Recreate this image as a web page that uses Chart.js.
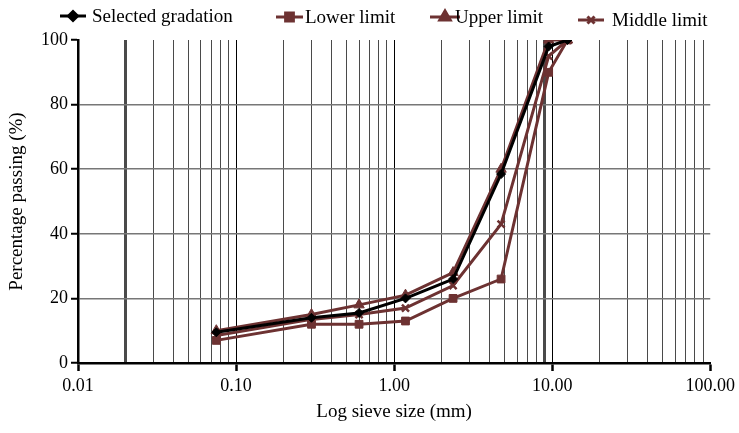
<!DOCTYPE html>
<html>
<head>
<meta charset="utf-8">
<script src="https://cdn.jsdelivr.net/npm/chart.js@4/dist/chart.umd.min.js"></script>
<style>
  body { margin: 0; background: #fff; }
  #wrap { width: 739px; height: 433px; }
</style>
</head>
<body>
<div id="wrap"><canvas id="chart"></canvas></div>
<script>
(function(){
    'use strict'

    // sieve sizes (mm) and percentage passing
    var sieveSizes = [0.075, 0.3, 0.6, 1.18, 2.36, 4.75, 9.5, 12.5];
    var selected   = [9.5, 14, 15.5, 20, 26, 58.5, 98, 100];
    var lower      = [7, 12, 12, 13, 20, 26, 90, 100];
    var upper      = [10, 15, 18, 21, 28, 60, 100, 100];
    var middle     = [8.5, 13.5, 15, 17, 24, 43, 95, 100];

    var seriesNames = ['Selected gradation', 'Lower limit', 'Upper limit', 'Middle limit'];
    var yTicks = [0, 20, 40, 60, 80, 100];
    var xDecades = [0.01, 0.1, 1, 10, 100];

    var brown = '#6d3232';
    var serif = "'Liberation Serif', 'DejaVu Serif', serif";

    function points(values){
        return values.map(function(v, i){ return {x: sieveSizes[i], y: v}; });
    }

    // every 1..9 step of each decade, for the log grid
    var xTickValues = [];
    for (var d = 0; d < xDecades.length - 1; d++) {
        for (var m = 1; m <= 9; m++) {
            xTickValues.push(+(m * xDecades[d]).toPrecision(6));
        }
    }
    xTickValues.push(xDecades[xDecades.length - 1]);

    function isDecade(v){
        var l = Math.log10(v);
        return Math.abs(l - Math.round(l)) < 1e-9;
    }

    var legendPos = [
        {x0: 60, x1: 86, tx: 92, y: 16},
        {x0: 276, x1: 303, tx: 305, y: 17},
        {x0: 430, x1: 460, tx: 455, y: 17},
        {x0: 578, x1: 604, tx: 612, y: 20}
    ];

    var legendPlugin = {
        id: 'lineLegend',
        afterDraw: function(chart){
            var ctx = chart.ctx;
            ctx.save();
            chart.data.datasets.forEach(function(ds, i){
                var p = legendPos[i];
                ctx.strokeStyle = ds.borderColor;
                ctx.lineWidth = 3;
                ctx.beginPath();
                ctx.moveTo(p.x0, p.y);
                ctx.lineTo(p.x1, p.y);
                ctx.stroke();
                ctx.fillStyle = ds.pointBackgroundColor;
                ctx.strokeStyle = ds.pointBorderColor;
                Chart.helpers.drawPoint(ctx, {
                    pointStyle: ds.pointStyle,
                    radius: ds.pointRadius,
                    rotation: 0,
                    borderWidth: ds.pointBorderWidth
                }, (p.x0 + p.x1) / 2, p.y);
                ctx.fillStyle = '#000';
                ctx.font = '19px ' + serif;
                ctx.textBaseline = 'middle';
                ctx.textAlign = 'left';
                ctx.fillText(ds.label, p.tx, p.y + 1);
            });
            ctx.restore();
        }
    };

    new Chart(document.getElementById('chart'), {
        type: 'line',
        data: {
            datasets: [{
                label: seriesNames[0],
                data: points(selected),
                borderColor: '#000',
                borderWidth: 3,
                pointStyle: 'rectRot',
                pointRadius: 4.5,
                pointBackgroundColor: '#000',
                pointBorderColor: '#000',
                pointBorderWidth: 1
            }, {
                label: seriesNames[1],
                data: points(lower),
                borderColor: brown,
                borderWidth: 3,
                pointStyle: 'rect',
                pointRadius: 5.5,
                pointBackgroundColor: brown,
                pointBorderColor: brown,
                pointBorderWidth: 1
            }, {
                label: seriesNames[2],
                data: points(upper),
                borderColor: brown,
                borderWidth: 3,
                pointStyle: 'triangle',
                pointRadius: 6,
                pointBackgroundColor: brown,
                pointBorderColor: brown,
                pointBorderWidth: 1
            }, {
                label: seriesNames[3],
                data: points(middle),
                borderColor: brown,
                borderWidth: 3,
                pointStyle: 'crossRot',
                pointRadius: 5,
                pointBackgroundColor: brown,
                pointBorderColor: brown,
                pointBorderWidth: 2.5
            }]
        },
        options: {
            responsive: true,
            maintainAspectRatio: false,
            animation: false,
            layout: { padding: { top: 40, right: 28, left: 0, bottom: 0 } },
            plugins: {
                legend: { display: false },
                tooltip: { enabled: false }
            },
            elements: { line: { tension: 0 } },
            scales: {
                x: {
                    type: 'logarithmic',
                    min: 0.01,
                    max: 100,
                    afterBuildTicks: function(scale){
                        scale.ticks = xTickValues.map(function(v){
                            return {value: v, major: isDecade(v)};
                        });
                    },
                    afterFit: function(scale){ scale.height = 70; },
                    border: { color: '#000', width: 2.5 },
                    grid: {
                        color: function(c){
                            var v = c.tick && c.tick.value;
                            if (v === undefined) return 'transparent';
                            if (v <= 0.01 || v >= 100) return 'transparent';
                            return isDecade(v) ? '#000' : '#4a4a4a';
                        },
                        lineWidth: function(c){
                            var v = c.tick && c.tick.value;
                            if (v === 0.02 || v === 9) return 3;
                            return 1;
                        },
                        tickColor: function(c){
                            var v = c.tick && c.tick.value;
                            return v !== undefined && isDecade(v) ? '#000' : 'transparent';
                        },
                        tickLength: 8,
                        tickWidth: 2.5
                    },
                    ticks: {
                        autoSkip: false,
                        maxRotation: 0,
                        padding: 4,
                        color: '#000',
                        font: { family: serif, size: 18 },
                        callback: function(value){
                            return isDecade(value) ? value.toFixed(2) : '';
                        }
                    },
                    title: {
                        display: true,
                        text: 'Log sieve size (mm)',
                        color: '#000',
                        font: { family: serif, size: 19 },
                        padding: { top: 4, bottom: 10 }
                    }
                },
                y: {
                    min: 0,
                    max: 100,
                    afterBuildTicks: function(scale){
                        scale.ticks = yTicks.map(function(v){ return {value: v}; });
                    },
                    afterFit: function(scale){ scale.width = 78; },
                    border: { color: '#000', width: 2.5 },
                    grid: {
                        color: function(c){
                            var v = c.tick && c.tick.value;
                            return (v === 0 || v === 100) ? 'transparent' : '#777';
                        },
                        lineWidth: 1.5,
                        tickColor: '#000',
                        tickLength: 7,
                        tickWidth: 2
                    },
                    ticks: {
                        padding: 3,
                        color: '#000',
                        font: { family: serif, size: 18 }
                    },
                    title: {
                        display: true,
                        text: 'Percentage passing (%)',
                        color: '#000',
                        font: { family: serif, size: 19 },
                        padding: { top: 6, bottom: 2 }
                    }
                }
            }
        },
        plugins: [legendPlugin]
    });
})();
</script>
</body>
</html>
